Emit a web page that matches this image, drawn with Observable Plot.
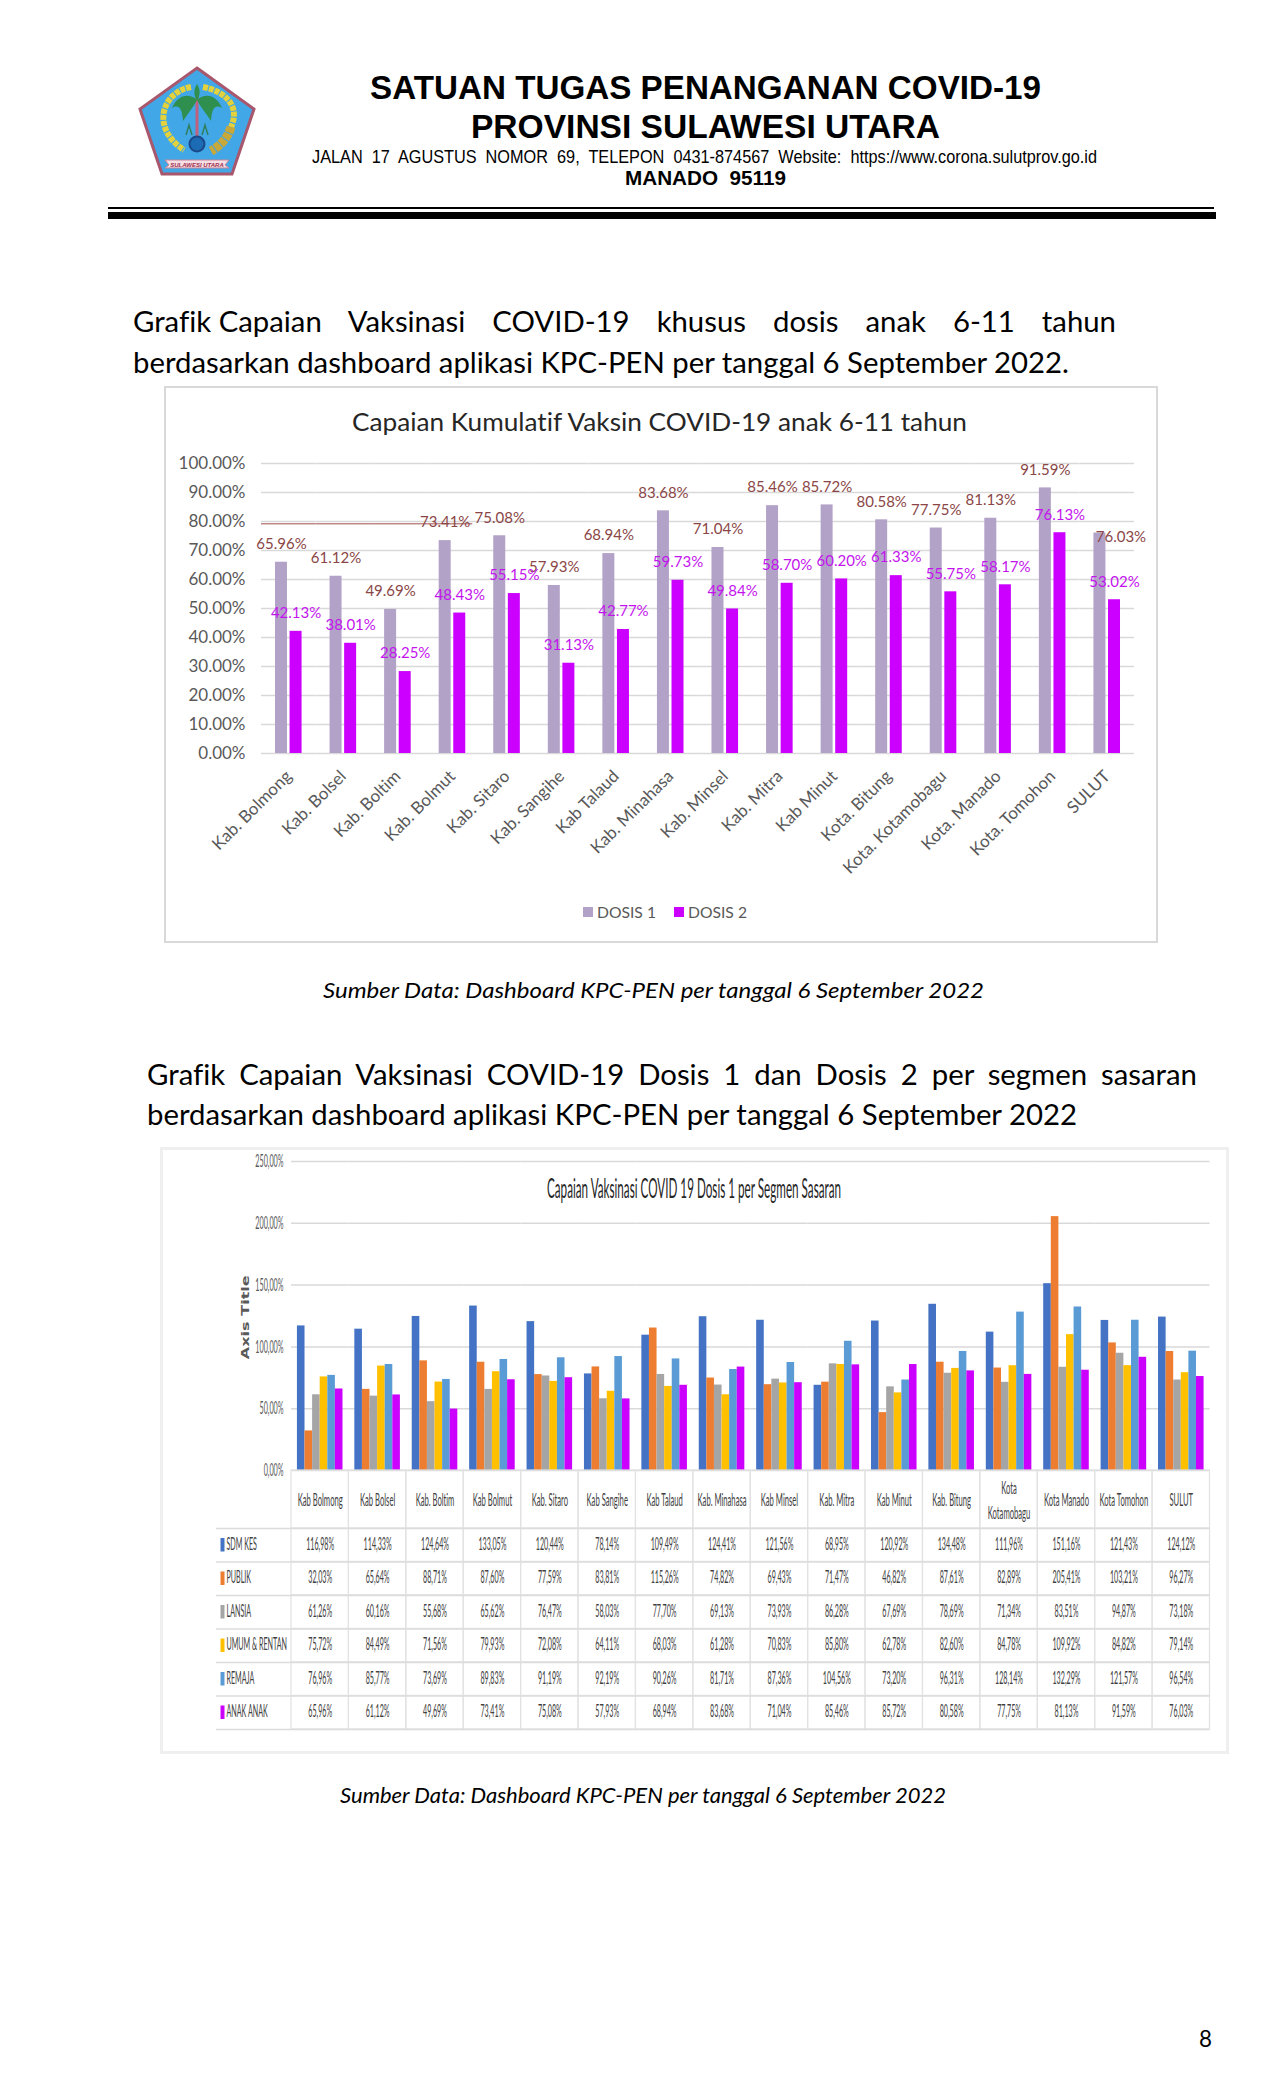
<!DOCTYPE html>
<html><head><meta charset="utf-8">
<script src="https://cdn.jsdelivr.net/npm/d3@7"></script>
<script src="https://cdn.jsdelivr.net/npm/@observablehq/plot@0.6"></script>
<style>
html,body{margin:0;padding:0;background:#fff}
#page{position:relative;width:1275px;height:2100px;overflow:hidden;background:#fff;font-family:Lato,sans-serif;color:#000;font-variant-ligatures:none}
.ln{position:absolute;white-space:nowrap;transform-origin:left center;line-height:1}
.box{position:absolute;box-sizing:border-box;background:#fff}
.rule{position:absolute;background:#000}
svg.plot{position:absolute;background:transparent;overflow:visible}
</style></head><body><div id="page"></div>
<script>
const kabKota1=["Kab. Bolmong","Kab. Bolsel","Kab. Boltim","Kab. Bolmut","Kab. Sitaro","Kab. Sangihe","Kab Talaud","Kab. Minahasa","Kab. Minsel","Kab. Mitra","Kab Minut","Kota. Bitung","Kota. Kotamobagu","Kota. Manado","Kota. Tomohon","SULUT"];
const dosis1=[65.96,61.12,49.69,73.41,75.08,57.93,68.94,83.68,71.04,85.46,85.72,80.58,77.75,81.13,91.59,76.03];
const dosis2=[42.13,38.01,28.25,48.43,55.15,31.13,42.77,59.73,49.84,58.70,60.20,61.33,55.75,58.17,76.13,53.02];
const ticks1=[0,10,20,30,40,50,60,70,80,90,100];
const kabKota2=["Kab Bolmong","Kab Bolsel","Kab. Boltim","Kab Bolmut","Kab. Sitaro","Kab Sangihe","Kab Talaud","Kab. Minahasa","Kab Minsel","Kab. Mitra","Kab Minut","Kab. Bitung","Kota\nKotamobagu","Kota Manado","Kota Tomohon","SULUT"];
const sdmKes=[116.98,114.33,124.64,133.05,120.44,78.14,109.49,124.41,121.56,68.95,120.92,134.48,111.96,151.16,121.43,124.12];
const publik=[32.03,65.64,88.71,87.60,77.59,83.81,115.26,74.82,69.43,71.47,46.82,87.61,82.89,205.41,103.21,96.27];
const lansia=[61.26,60.16,55.68,65.62,76.47,58.03,77.70,69.13,73.93,86.28,67.69,78.69,71.34,83.51,94.87,73.18];
const umumRentan=[75.72,84.49,71.56,79.93,72.08,64.11,68.03,61.28,70.83,85.80,62.78,82.60,84.78,109.92,84.82,79.14];
const remaja=[76.96,85.77,73.69,89.83,91.19,92.19,90.26,81.71,87.36,104.56,73.20,96.31,128.14,132.29,121.57,96.54];
const anakAnak=[65.96,61.12,49.69,73.41,75.08,57.93,68.94,83.68,71.04,85.46,85.72,80.58,77.75,81.13,91.59,76.03];
const segmen=["SDM KES","PUBLIK","LANSIA","UMUM & RENTAN","REMAJA","ANAK ANAK"];
const segmenWarna=["#4472c4","#ed7d31","#a5a5a5","#ffc000","#5b9bd5","#cc00ff"];
const ticks2=[0,50,100,150,200,250];

const page=document.getElementById("page");
function el(cls,css,html){const d=document.createElement("div");d.className=cls;d.style.cssText=css;if(html!=null)d.innerHTML=html;page.appendChild(d);return d;}
function line(html,l,r,y,css){const d=el("ln",`left:${l}px;top:${y}px;${css}`,html);const k=(r-l)/d.getBoundingClientRect().width;d.style.transform=`translateY(-50%) scaleX(${k})`;return k;}
// narrow every text of a chart in place (the source image is condensed)
function squeeze(svg,k){d3.select(svg).selectAll("text").each(function(){
  const ky=typeof k==="function"?k(this):k;
  const t=this.getAttribute("transform")||"";
  this.setAttribute("transform",`${t} scale(${ky},1)`.trim());
});}
function place(plot,l,t){plot.classList.add("plot");plot.style.left=l+"px";plot.style.top=t+"px";page.appendChild(plot);return plot;}

// ---------- letterhead
const logo=el("", "position:absolute;left:130px;top:60px;width:135px;height:125px");
logo.innerHTML=`<svg width="135" height="125" viewBox="130 60 135 125" xmlns="http://www.w3.org/2000/svg">
<polygon points="197,68 254,109 232,174 162,174 140,109" fill="#41a7e6" stroke="#a9576c" stroke-width="3"/>
<path d="M191,87 C162,92 150,128 184,150" fill="none" stroke="#e3d23c" stroke-width="6" stroke-dasharray="5 1"/>
<path d="M203,87 C228,92 240,108 231,127" fill="none" stroke="#e3d23c" stroke-width="6" stroke-dasharray="5 1"/>
<path d="M231,127 C228,138 220,146 211,151" fill="none" stroke="#c9a83a" stroke-width="9" stroke-dasharray="6 1"/>
<rect x="195.5" y="90" width="3" height="50" fill="#c0617d"/>
<path d="M197,100 C188,92 177,96 172,108 C179,104 182,108 183,121 C188,113 193,108 197,100 C201,108 206,113 211,121 C212,108 215,104 222,108 C217,96 206,92 197,100Z M197,101 C193,94 194,89 197,84 C200,89 201,94 197,101Z" fill="#2f8f4e"/>
<path d="M186,135 l3,-10 l3,10 M202,135 l3,-10 l3,10" fill="none" stroke="#2f7f5e" stroke-width="1.5"/>
<circle cx="197" cy="144" r="7.5" fill="#1b6bb5" stroke="#1b4a8a" stroke-width="2"/>
<path d="M165,160 H229 L225,165 L229,168 H165 L169,165Z" fill="#f6dfe4" stroke="#c78497"/>
<text x="197" y="166.5" text-anchor="middle" font-size="6" font-style="italic" font-weight="bold" fill="#a03050" font-family="Liberation Sans">SULAWESI UTARA</text>
</svg>`;
const head="font-family:'Liberation Sans',Arial,sans-serif;";
line("SATUAN TUGAS PENANGANAN COVID-19",370,1041,87,head+"font-weight:700;font-size:33px");
line("PROVINSI SULAWESI UTARA",471,940,126,head+"font-weight:700;font-size:33px");
line("JALAN&nbsp; 17&nbsp; AGUSTUS&nbsp; NOMOR&nbsp; 69,&nbsp; TELEPON&nbsp; 0431-874567&nbsp; Website:&nbsp; https://www.corona.sulutprov.go.id",312,1097,155.5,head+"font-size:19px");
line("MANADO&nbsp; 95119",625,786,177.5,head+"font-weight:700;font-size:20px");
el("rule","left:108px;top:206.5px;width:1106px;height:2px");
el("rule","left:108px;top:212px;width:1108px;height:7px");

// ---------- text blocks
const para="font-size:28px;";
const k1=line("berdasarkan dashboard aplikasi KPC-PEN per tanggal 6 September 2022.",133,1069,362,para);
el("ln",`left:133px;top:321px;width:${983/k1}px;white-space:normal;text-align:justify;text-align-last:justify;transform:translateY(-50%) scaleX(${k1});${para}`,`<span style="display:inline-block">Grafik Capaian</span> Vaksinasi COVID-19 khusus dosis anak 6-11 tahun`);
const k2=line("berdasarkan dashboard aplikasi KPC-PEN per tanggal 6 September 2022",147,1077,1114,para);
el("ln",`left:147px;top:1074px;width:${1050/k2}px;white-space:normal;text-align:justify;text-align-last:justify;transform:translateY(-50%) scaleX(${k2});${para}`,`Grafik Capaian Vaksinasi COVID-19 Dosis 1 dan Dosis 2 per segmen sasaran`);
line("Sumber Data: Dashboard KPC-PEN per tanggal 6 September 2022",323,984,990,"font-size:22px;font-style:italic");
line("Sumber Data: Dashboard KPC-PEN per tanggal 6 September 2022",340,946,1795,"font-size:22px;font-style:italic");
line("8",1199,1212,2038,"font-size:23px");

// ---------- chart 1
el("box","left:164px;top:386px;width:994px;height:557px;border:2px solid #d9d9d9");
const long1=kabKota1.flatMap((c,i)=>[{c,s:"DOSIS 1",v:dosis1[i]},{c,s:"DOSIS 2",v:dosis2[i]}]);
const pct1=d=>d.toFixed(2)+"%";
const labelBiasa=d=>!(d.c==="SULUT"&&d.s==="DOSIS 1");
const chart1=Plot.plot({
  width:992,height:556,marginLeft:96,marginRight:23,marginTop:77,marginBottom:189,
  style:{fontFamily:"Lato,sans-serif",background:"transparent"},
  fx:{domain:kabKota1,padding:0,round:false,label:null,axis:null},
  x:{domain:["DOSIS 1","DOSIS 2"],paddingInner:.178,paddingOuter:.959,round:false,axis:null},
  y:{domain:[0,100],axis:null},
  color:{domain:["DOSIS 1","DOSIS 2"],range:["#b3a2c7","#cc00ff"]},
  marks:[
    Plot.gridY(ticks1,{stroke:"#d9d9d9",strokeOpacity:1,strokeWidth:1.5}),
    Plot.axisY({ticks:ticks1,tickSize:0,tickPadding:16,fontSize:17,fill:"#595959",label:null,tickFormat:pct1}),
    Plot.axisFx({anchor:"bottom",tickRotate:-45,tickSize:0,tickPadding:20,fontSize:17,fill:"#595959",label:null}),
    Plot.barY(long1,{fx:"c",x:"s",y:"v",fill:"s"}),
    Plot.ruleY(kabKota1.slice(0,3),{fx:d=>d,y:()=>79.2,stroke:"#a0504f",strokeWidth:1}),
    Plot.ruleY(kabKota1.slice(3,4),{fx:d=>d,y:()=>79.2,stroke:"#a0504f",strokeWidth:1,insetRight:7}),
    Plot.text(long1.filter(d=>d.s==="DOSIS 1"&&labelBiasa(d)),{fx:"c",x:"s",y:"v",text:d=>pct1(d.v),dy:-18,fill:"#8a4646",fontSize:15}),
    Plot.text(long1.filter(d=>!labelBiasa(d)),{fx:"c",x:"s",y:"v",text:d=>pct1(d.v),dx:21,dy:4,fill:"#8a4646",fontSize:15}),
    Plot.text(long1.filter(d=>d.s==="DOSIS 2"),{fx:"c",x:"s",y:"v",text:d=>pct1(d.v),dy:-18,fill:"#c414ee",fontSize:15})
  ]
});
place(chart1,165,386);
line("Capaian Kumulatif Vaksin COVID-19 anak 6-11 tahun",352,967,421,"font-size:25px;color:#262626");
el("box","left:583px;top:907px;width:10px;height:10px;background:#b3a2c7");
el("box","left:674px;top:907px;width:10px;height:10px;background:#cc00ff");
line("DOSIS 1",597,656,912,"font-size:16px;color:#595959");
line("DOSIS 2",688,747,912,"font-size:16px;color:#595959");

// ---------- chart 2
el("box","left:160px;top:1147px;width:1069px;height:607px;border:3px solid #efefef");
const long2=kabKota2.flatMap((c,i)=>[sdmKes,publik,lansia,umumRentan,remaja,anakAnak].map((a,j)=>({c,s:segmen[j],v:a[i]})));
const pct2=d=>d.toFixed(2).replace(".",",")+"%";
const axisTitle="Axis Title";
const chart2=Plot.plot({
  width:1067,height:323,marginLeft:130,marginRight:18.5,marginTop:14,marginBottom:0,
  style:{fontFamily:"Lato,sans-serif",background:"transparent"},
  fx:{domain:kabKota2,padding:0,round:false,label:null,axis:null},
  x:{domain:segmen,padding:0,paddingOuter:.78,round:false,axis:null},
  y:{domain:[0,250],axis:null},
  color:{domain:segmen,range:segmenWarna},
  marks:[
    Plot.gridY(ticks2,{stroke:"#d9d9d9",strokeOpacity:1,strokeWidth:1.5}),
    Plot.axisY({ticks:ticks2,tickSize:0,tickPadding:8,fontSize:17.5,fill:"#595959",label:null,tickFormat:pct2}),
    Plot.barY(long2,{fx:"c",x:"s",y:"v",fill:"s"}),
    Plot.text([axisTitle],{fx:()=>kabKota2[0],frameAnchor:"left",textAnchor:"middle",y:()=>124,dx:-46,rotate:-90,text:d=>d,fontSize:10,fontWeight:"bold",fill:"#595959",fontFamily:"DejaVu Sans"})
  ]
});
place(chart2,161,1147);
squeeze(chart2,n=>n.textContent===axisTitle?84/n.getComputedTextLength():.41);
line("Capaian Vaksinasi COVID 19 Dosis 1 per Segmen Sasaran",547,841,1187,"font-size:27px;color:#262626");

// table header
const chart2Head=Plot.plot({
  width:1067,height:58.3,marginLeft:130,marginRight:18.5,marginTop:0,marginBottom:0,
  style:{fontFamily:"Lato,sans-serif",background:"transparent"},
  x:{domain:kabKota2,padding:0,round:false,axis:null},
  marks:[
    Plot.cell(kabKota2,{x:d=>d,stroke:"#e2e2e2",strokeWidth:1.2,fill:"none"}),
    Plot.text(kabKota2,{x:d=>d,text:d=>d,frameAnchor:"top",dy:28,lineHeight:1.45,fontSize:17,fill:"#404040",lineAnchor:"middle"})
  ]
});
place(chart2Head,161,1470);
squeeze(chart2Head,.45);

// table body
const rowH=33.5;
const sel=segmen.map((s,j)=>({s,w:segmenWarna[j]}));
const chart2Body=Plot.plot({
  width:1067,height:201,marginLeft:130,marginRight:18.5,marginTop:0,marginBottom:0,
  style:{fontFamily:"Lato,sans-serif",background:"transparent"},
  x:{domain:kabKota2,padding:0,round:false,axis:null},
  y:{domain:segmen,padding:0,round:false,axis:null},
  marks:[
    Plot.cell(long2,{x:"c",y:"s",stroke:"#e2e2e2",strokeWidth:1.2,fill:"none"}),
    Plot.ruleY(segmen,{y:d=>d,dy:-rowH/2,insetLeft:-75,stroke:"#dcdcdc",strokeWidth:1.6}),
    Plot.ruleY(segmen.slice(-1),{y:d=>d,dy:rowH/2,insetLeft:-75,stroke:"#dcdcdc",strokeWidth:1.6}),
    Plot.tickX(sel,{x:()=>kabKota2[0],y:"s",dx:-97.7,stroke:"w",strokeWidth:4,insetTop:10,insetBottom:10}),
    Plot.text(segmen,{y:d=>d,text:d=>d,frameAnchor:"left",textAnchor:"start",dx:-65,dy:-1,fontSize:17,fill:"#404040"}),
    Plot.text(long2,{x:"c",y:"s",text:d=>pct2(d.v),dy:-1,fontSize:17,fill:"#404040"})
  ]
});
place(chart2Body,161,1528.3);
squeeze(chart2Body,.42);
</script></body></html>
